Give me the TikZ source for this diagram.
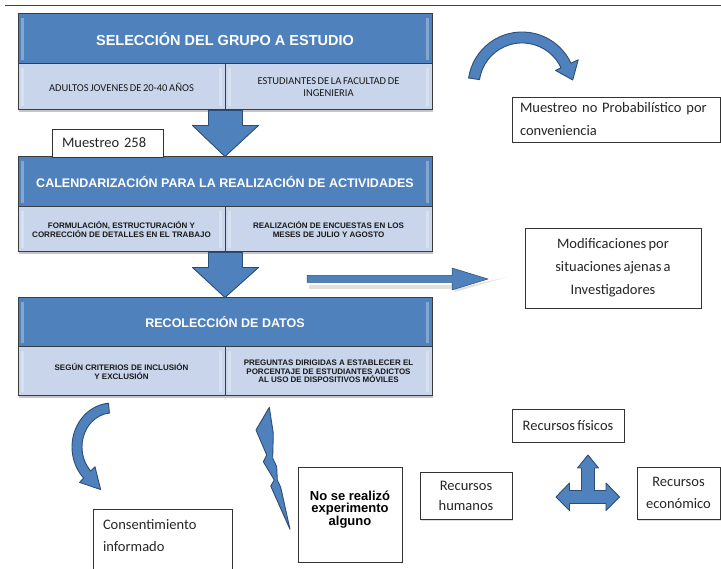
\documentclass[tikz,border=0pt]{standalone}
\usepackage{fontspec}
\setmainfont{Carlito}[WordSpace=0.7]
\newfontfamily\arialfont{Liberation Sans}
\usetikzlibrary{calc,shadows}

\definecolor{headblue}{RGB}{79,129,189}
\definecolor{subblue}{RGB}{200,213,234}
\definecolor{edgeblue}{RGB}{44,77,117}
\definecolor{boxline}{RGB}{60,60,60}

\begin{document}
\begin{tikzpicture}[x=1pt, y=-1pt,
    header/.style={draw=boxline, line width=1pt, fill=headblue, text=white,
      minimum width=414pt, minimum height=50pt, inner sep=0pt, align=center,
      font=\arialfont\bfseries\fontsize{12.5}{14}\selectfont,
      drop shadow={shadow xshift=1pt, shadow yshift=-2.5pt, opacity=.45},
      path picture={
        \fill[white, opacity=.3] ([xshift=3pt, yshift=-4pt]path picture bounding box.north west)
          rectangle ([xshift=6pt, yshift=4pt]path picture bounding box.south west);
        \fill[white, opacity=.3] ([xshift=-3pt, yshift=-4pt]path picture bounding box.north east)
          rectangle ([xshift=-6pt, yshift=4pt]path picture bounding box.south east);}},
    subcell/.style={header, fill=subblue, text=black!90, minimum width=207pt, minimum height=46pt,
      font=\arialfont\bfseries\fontsize{8}{9.5}\selectfont},
    textbox/.style={draw=black!80, line width=.8pt, fill=white, text=black!85, inner sep=0pt,
      align=center, font=\fontsize{14.5}{23}\selectfont,
      drop shadow={shadow xshift=1pt, shadow yshift=-1.5pt, opacity=.25}},
    boxedge/.style={draw=black!80, line width=.8pt},
    blockarrow/.style={fill=headblue, draw=edgeblue, line width=.9pt, line join=round}]

  \useasboundingbox (0,0) rectangle (721,569);

  % Draw the rule at the top
  \draw[line width=1pt, black!75] (5,6) -- (721,6);

  % Block 1: selection of the group
  \node[header, font=\arialfont\bfseries\fontsize{14.5}{16}\selectfont] (sel) at (225,39) {SELECCIÓN DEL GRUPO A ESTUDIO};
  \node[subcell, font=\fontsize{10.5}{12}\selectfont] (adultos) at (121.5,87) {ADULTOS JOVENES DE 20-40 AÑOS};
  \node[subcell, font=\fontsize{10.5}{12}\selectfont] (estud) at (328.5,87) {ESTUDIANTES DE LA FACULTAD DE\\INGENIERIA};

  % Block 2: calendar of activities
  \node[header] (cal) at (225,182) {CALENDARIZACIÓN PARA LA REALIZACIÓN DE ACTIVIDADES};
  \node[subcell, minimum height=45pt] (formul) at (121.5,229.5) {FORMULACIÓN, ESTRUCTURACIÓN Y\\CORRECCIÓN DE DETALLES EN EL TRABAJO};
  \node[subcell, minimum height=45pt] (encuestas) at (328.5,229.5) {REALIZACIÓN DE ENCUESTAS EN LOS\\MESES DE JULIO Y AGOSTO};

  % Block 3: data collection
  \node[header, minimum height=49pt] (recol) at (225,322.5) {RECOLECCIÓN DE DATOS};
  \node[subcell, minimum height=49pt, font=\arialfont\bfseries\fontsize{8}{8.7}\selectfont] (criterios) at (121.5,371.5) {SEGÚN CRITERIOS DE INCLUSIÓN\\Y EXCLUSIÓN};
  \node[subcell, minimum height=49pt, font=\arialfont\bfseries\fontsize{8}{8.7}\selectfont] (preguntas) at (328.5,371.5) {PREGUNTAS DIRIGIDAS A ESTABLECER EL\\PORCENTAJE DE ESTUDIANTES ADICTOS\\AL USO DE DISPOSITIVOS MÓVILES};

  % Draw the block arrows between the blocks
  \foreach \a/\b in {adultos/cal, formul/recol}
    \filldraw[blockarrow] ($(\a.south east)+(-17,0)$) -- ($(\a.south east)+(17,0)$)
      -- ($(\a.south east)+(17,15)$) -- ($(\a.south east)+(33,15)$) -- (\b.north)
      -- ($(\a.south east)+(-33,15)$) -- ($(\a.south east)+(-17,15)$) -- cycle;

  % Side boxes
  \node[textbox, text width=91pt, inner xsep=10pt, minimum height=28pt, align=left] (muestra) at (107.5,143) {Muestreo 258};
  \node[textbox, text width=192pt, inner xsep=8pt, minimum height=45pt, align=left] (metodo) at (616,119.5) {Muestreo no Probabilístico por\\conveniencia};
  \node[textbox, minimum width=176pt, minimum height=80pt] (modif) at (613,268) {Modificaciones por\\situaciones ajenas a\\Investigadores};
  \node[text=black!85, text width=119pt, align=left, font=\fontsize{14.5}{22}\selectfont] (consent) at (162.5,536) {Consentimiento\\informado};
  \draw[boxedge] ($(consent.center)+(-69.5,-27)$) rectangle ($(consent.center)+(69.5,35)$);
  \node[align=center, font=\arialfont\bfseries\fontsize{13}{12.5}\selectfont] (noexp) at (350,509.5) {No se realizó\\experimento\\alguno};
  \draw[boxedge] ($(noexp.center)+(-52,-42.5)$) rectangle ($(noexp.center)+(52,52.5)$);
  \node[textbox, minimum width=112pt, minimum height=33pt] (fisicos) at (568,425.5) {Recursos físicos};
  \node[textbox, minimum width=92pt, minimum height=47pt, font=\fontsize{14.5}{20}\selectfont] (humanos) at (466,495.5) {Recursos\\humanos};
  \node[textbox, minimum width=83pt, minimum height=52pt, font=\fontsize{14.5}{22}\selectfont] (econom) at (678.5,493) {Recursos\\económico};

  % Curved arrow at the top right
  \filldraw[blockarrow] (468.6,78) arc[start angle=188.5, end angle=335, radius=54]
    -- (578.2,59.8) -- (572.7,80) -- (555.5,70.4) -- (561,67.8)
    arc[start angle=335, end angle=188.5, radius=43] -- cycle;

  % Curved arrow at the bottom left
  \filldraw[blockarrow] (108.5,403.2) arc[start angle=265, end angle=135, x radius=40, y radius=44]
    -- (79.5,482.4) -- (100.6,489.5) -- (95,466.8) -- (90.8,471)
    arc[start angle=135, end angle=265, x radius=30, y radius=34] -- cycle;

  % Right arrow with its shadow
  \fill[black!12] (309,285) -- (455,285) -- (455,292) -- (507,277) -- (455,289) -- (309,289) -- cycle;
  \filldraw[blockarrow, line width=.5pt] (307,275.5) -- (452,275.5) -- (452,268) -- (488,279)
    -- (452,290) -- (452,282.5) -- (307,282.5) -- cycle;

  % Lightning
  \filldraw[blockarrow] (269.3,407.3) -- (256,430) -- (266.7,455) -- (263.3,461.7) -- (274.3,480)
    -- (270.7,486) -- (290,529.3) -- (280.7,487.3) -- (277.3,480) -- (276.7,466.7)
    -- (272.7,458.3) -- (273.3,433.3) -- cycle;

  % Three-way arrow
  \filldraw[blockarrow] (588,455) -- (598.5,468) -- (594.5,468) -- (594.5,490.5) -- (606,490.5)
    -- (606,483) -- (619.5,497) -- (606,510.5) -- (606,503.5) -- (569.5,503.5) -- (569.5,510.5)
    -- (556,497) -- (569.5,483) -- (569.5,490.5) -- (581.5,490.5) -- (581.5,468) -- (577.5,468) -- cycle;
\end{tikzpicture}
\end{document}
